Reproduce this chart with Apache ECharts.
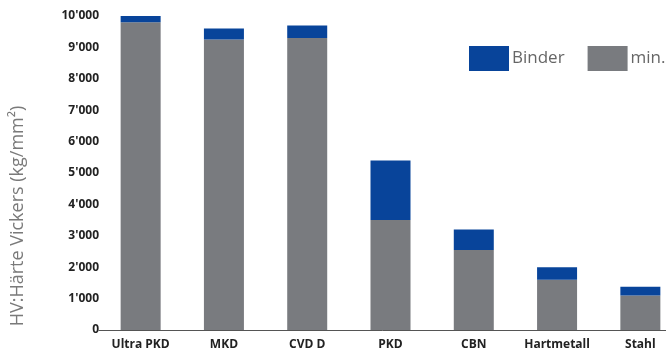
<!DOCTYPE html>
<html lang="de">
<head>
  <meta charset="UTF-8">
  <title>Härte Vickers</title>
  <style>
    html, body { margin: 0; padding: 0; background: #fff; }
    #chart { width: 666px; height: 356px; }
  </style>
  <script src="https://cdn.jsdelivr.net/npm/echarts@6/dist/echarts.min.js"></script>
</head>
<body>
  <div id="chart"></div>
  <script>
    // Daten
    var categories = ['Ultra PKD', 'MKD', 'CVD D', 'PKD', 'CBN', 'Hartmetall', 'Stahl'];
    var minValues = [9800, 9250, 9300, 3500, 2550, 1600, 1100];
    var binderValues = [200, 350, 400, 1900, 650, 400, 280];

    var blue = '#08449a';
    var grey = '#797b7f';

    var myChart = echarts.init(document.getElementById('chart'));
    var option = {
      animation: false,
      textStyle: { fontFamily: '"Open Sans", sans-serif' },
      legend: {
        orient: 'horizontal',
        left: 469,
        top: 46,
        width: 300,
        padding: 0,
        itemWidth: 40,
        itemHeight: 25,
        itemGap: 23,
        icon: 'rect',
        data: ['Binder', 'min.'],
        textStyle: { fontSize: 17, color: '#666', padding: [0, 0, 0, -2] }
      },
      grid: { left: 99, top: 16, width: 583, bottom: 26, outerBoundsMode: 'none' },
      xAxis: {
        type: 'category',
        data: categories,
        axisTick: { show: false },
        axisLine: { lineStyle: { color: '#555', width: 1 } },
        axisLabel: { color: '#222', fontWeight: 'bold', fontSize: 12, margin: 9, interval: 0 }
      },
      yAxis: {
        type: 'value',
        min: 0,
        max: 10000,
        interval: 1000,
        name: 'HV:Härte Vickers (kg/mm²)',
        nameLocation: 'middle',
        nameGap: 72,
        nameTextStyle: { fontSize: 18, color: '#7a7a7a', padding: [0, 86, 0, 0] },
        splitLine: { show: false },
        axisLine: { show: false },
        axisTick: { show: false },
        axisLabel: {
          color: '#222', fontWeight: 'bold', fontSize: 12, margin: 0,
          formatter: function (v) { return String(v).replace(/\B(?=(\d{3})+(?!\d))/g, "'"); }
        }
      },
      series: [
        {
          name: 'min.', type: 'bar', stack: 'hv', barWidth: 40,
          itemStyle: { color: grey }, data: minValues
        },
        {
          name: 'Binder', type: 'bar', stack: 'hv', barWidth: 40,
          itemStyle: { color: blue }, data: binderValues
        }
      ]
    };
    myChart.setOption(option);
  </script>
</body>
</html>
